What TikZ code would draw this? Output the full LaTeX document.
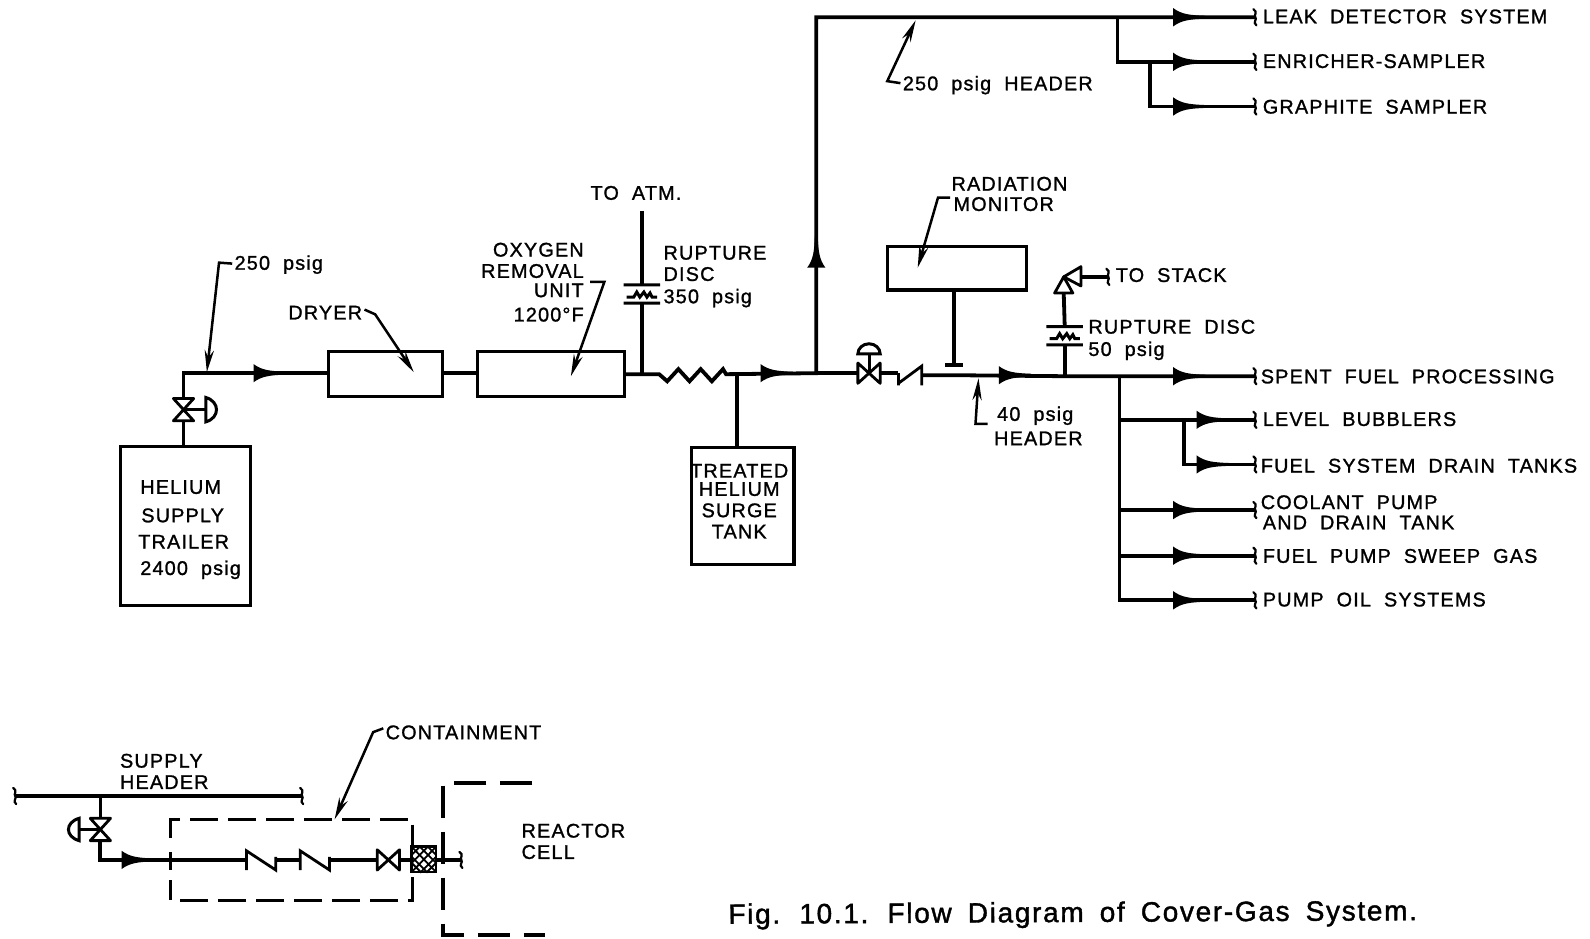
\documentclass[tikz,border=0pt]{standalone}
\usepackage{fontspec}
\setmainfont{Liberation Sans}[LetterSpace=6,WordSpace=1.95,FakeBold=1.2]
\newfontfamily\capfont{Liberation Sans}[LetterSpace=6,WordSpace=1.7,FakeBold=1.4]
\usetikzlibrary{arrows.meta,calc}
\newdimen\uu \uu=0.50702pt
\tikzset{
 x=\uu,y=-\uu,
 pipe/.style={line width=1.9pt,line join=miter},
 thin pipe/.style={line width=1.5pt},
 unit box/.style={draw,line width=1.6pt,inner sep=0pt,outer sep=0pt,anchor=north west},
 lab/.style={inner sep=0pt,anchor=base west,font=\fontsize{9.9}{12}\selectfont},
 labr/.style={lab,anchor=base east},
 leader/.style={line width=1.25pt,-{Stealth[length=11pt,width=4.6pt]}},
 cdash/.style={line width=1.6pt,dash pattern=on 14pt off 5pt},
 flowtip/.pic={\fill (0,-9) -- (0,9) .. controls (8,3) and (16,2) .. (32,1.4) -- (32,-1.4) .. controls (16,-2) and (8,-3) .. (0,-9) -- cycle;},
 wig/.pic={\draw[line width=1.1pt,line cap=round] (-2,-8) .. controls (3,-5) and (-2,-2) .. (0,0) .. controls (2,2) and (-3,5) .. (1,8);},
 bowtie/.pic={\draw[line width=1.4pt,fill=white,line join=round] (-10,-11) -- (10,-11) -- (-10,11) -- (10,11) -- cycle;},
 checkv/.pic={\draw[line width=1.4pt,line join=miter] (0,12) -- (0,0) (0,10) -- (23,-7) -- (23,12);},
 checkn/.pic={\draw[line width=1.4pt,line join=miter] (0,10) -- (0,-9) -- (29,10) -- (29,-3);},
 rdisc/.pic={\draw[line width=1.5pt] (-18,-9) -- (18,-9) (-18,9) -- (18,9) (-15,3) -- (-8,3) -- (-5,-2) -- (-2,3) -- (2,-2) -- (5,3) -- (8,-1) -- (10,3) -- (15,3);},
}
\newcommand\lbl[5][]{\node[lab,#1] (#2) at (#3,#4+7) {#5};}
\begin{document}
\begin{tikzpicture}
\useasboundingbox[fill=white] (0,0) rectangle (1568,926);
% equipment
\node[unit box,minimum width=128*\uu,minimum height=157*\uu] (trailer) at (119,440) {};
\node[unit box,minimum width=112*\uu,minimum height=44*\uu] (dryer) at (324,347) {};
\node[unit box,minimum width=145*\uu,minimum height=44*\uu] (oru) at (471,347) {};
\node[unit box,minimum width=101*\uu,minimum height=116*\uu] (surge) at (682,441) {};
\node[unit box,minimum width=137*\uu,minimum height=43*\uu] (monitor) at (875,243) {};
% junctions
\coordinate (v1) at (181,404);
\coordinate (c1) at (181,368);
\coordinate (j1) at (633,369);
\coordinate (z0) at (650,369);
\coordinate (z1) at (716,369);
\coordinate (j2) at (727,369);
\coordinate (j3) at (805,368);
\coordinate (c2) at (805,17);
\coordinate (v2) at (857,368);
\coordinate (cv) at (886,368);
\coordinate (j4) at (941,370);
\coordinate (j5) at (1050,371);
\coordinate (j6) at (1104,371);
\coordinate (j7) at (1102,17);
\coordinate (j8) at (1102,61);
\coordinate (j9) at (1134,61);
\coordinate (j10) at (1134,105);
\coordinate (j11) at (1168,414);
\coordinate (j12) at (1168,458);
\coordinate (j13) at (1104,414);
\coordinate (j14) at (1104,503);
\coordinate (j15) at (1104,548);
\coordinate (j16) at (1104,592);
\coordinate (e1) at (1238,17);
\coordinate (e2) at (1238,61);
\coordinate (e3) at (1238,105);
\coordinate (e4) at (1238,371);
\coordinate (e5) at (1238,414);
\coordinate (e6) at (1238,458);
\coordinate (e7) at (1238,503);
\coordinate (e8) at (1238,548);
\coordinate (e9) at (1238,592);
\coordinate (atm) at (633,208);
\coordinate (disc1) at (633,290);
\coordinate (disc2) at (1050,331);
\coordinate (rv) at (1049,273);
\coordinate (stack) at (1093,273);
% main pipe
\draw[pipe] (trailer.north -| v1) -- (v1) -- (c1) -- (dryer.west |- c1);
\draw[pipe] (dryer.east |- c1) -- (oru.west |- c1);
\draw[pipe] (oru.east |- j1) -- (z0) -- ++(8,7) -- ++(11,-12) -- ++(11,12) -- ++(11,-12) -- ++(11,12) -- ++(11,-12) -- ++(3,5) -- (z1) -- (j3) -- (c2) -- (e1);
\draw[pipe] (j2) -- (surge.north -| j2);
\draw[pipe] (j3) -- (v2) -- (cv);
\draw[pipe] (910,370) -- (j4) -- (j5) -- (e4);
\draw[pipe] (j7) -- (j8) -- (e2);
\draw[pipe] (j9) -- (j10) -- (e3);
\draw[pipe] (j6) -- (j16) -- (e9);
\draw[pipe] (j13) -- (e5);
\draw[pipe] (j11) -- (j12) -- (e6);
\draw[pipe] (j14) -- (e7);
\draw[pipe] (j15) -- (e8);
% vents
\draw[pipe] (atm) -- ($(disc1)+(0,-9)$);
\draw[pipe] ($(disc1)+(0,9)$) -- (j1);
\draw[pipe] (j5) -- ($(disc2)+(0,9)$);
\draw[pipe] ($(disc2)+(0,-9)$) -- ($(rv)+(0,16)$);
\draw[pipe] ($(rv)+(17,0)$) -- (stack);
\draw[pipe] (monitor.south -| 941,0) -- (941,360);
\draw[line width=1.7pt] (932,360) -- (950,360);
% valves
\pic at (v1) {bowtie};
\draw[thin pipe] (v1) -- ++(22,0);
\draw[thin pipe] (203,392) -- (203,416) .. controls (217,412) and (217,396) .. (203,392) -- cycle;
\pic[rotate=90] at (v2) {bowtie};
\draw[thin pipe] (v2) -- ++(0,-19);
\draw[thin pipe] (846,349) arc[start angle=180,end angle=0,x radius=11,y radius=-10] -- cycle;
\pic at (cv) {checkv};
\pic at (disc1) {rdisc};
\pic at (disc2) {rdisc};
\draw[line width=1.4pt,fill=white,line join=round] (rv) -- (1040,289) -- (1058,289) -- cycle;
\draw[line width=1.4pt,fill=white,line join=round] (rv) -- (1066,263) -- (1066,282) -- cycle;
\pic at (stack) {wig};
% flow arrows
\foreach \p/\q in {250/368,750/368,985/370,1157/17,1157/61,1157/105,1157/371,1180/414,1180/458,1157/503,1157/548,1157/592,120/848}
  \pic at (\p,\q) {flowtip};
\pic[rotate=90] at (805,264) {flowtip};
\foreach \n in {e1,e2,e3,e4,e5,e6,e7,e8,e9}
  \pic at (\n) {wig};
% labels
\lbl{la}{231}{259}{250 psig}
\lbl{lb}{284}{308}{DRYER}
\lbl[labr]{lc}{576}{246}{OXYGEN}
\lbl[labr]{ld}{576}{267}{REMOVAL}
\lbl[labr]{le}{576}{286}{UNIT}
\lbl[labr]{lf}{576}{310}{1200°F}
\lbl{lg}{582}{190}{TO ATM.}
\lbl{lh}{654}{249}{RUPTURE}
\lbl{li}{654}{270}{DISC}
\lbl{lj}{654}{292}{350 psig}
\lbl{lk}{138}{480}{HELIUM}
\lbl{ll}{139}{508}{SUPPLY}
\lbl{lm}{136}{534}{TRAILER}
\lbl{ln}{138}{560}{2400 psig}
\lbl[anchor=base]{lo}{729}{464}{TREATED}
\lbl[anchor=base]{lp}{729}{482}{HELIUM}
\lbl[anchor=base]{lq}{729}{503}{SURGE}
\lbl[anchor=base]{lr}{729}{524}{TANK}
\lbl{ls}{938}{181}{RADIATION}
\lbl{lt}{940}{201}{MONITOR}
\lbl{lu}{1100}{271}{TO STACK}
\lbl{lv}{1073}{322}{RUPTURE DISC}
\lbl{lw}{1073}{344}{50 psig}
\lbl{lx}{983}{408}{40 psig}
\lbl{ly}{980}{432}{HEADER}
\lbl{lz}{890}{82}{250 psig HEADER}
\lbl{ma}{1245}{16}{LEAK DETECTOR SYSTEM}
\lbl{mb}{1245}{60}{ENRICHER-SAMPLER}
\lbl{mc}{1245}{105}{GRAPHITE SAMPLER}
\lbl{md}{1243}{371}{SPENT FUEL PROCESSING}
\lbl{me}{1245}{413}{LEVEL BUBBLERS}
\lbl{mf}{1243}{459}{FUEL SYSTEM DRAIN TANKS}
\lbl{mg}{1243}{495}{COOLANT PUMP}
\lbl{mh}{1245}{515}{AND DRAIN TANK}
\lbl{mi}{1245}{548}{FUEL PUMP SWEEP GAS}
\lbl{mj}{1245}{591}{PUMP OIL SYSTEMS}
\lbl{mk}{118}{750}{SUPPLY}
\lbl{ml}{118}{771}{HEADER}
\lbl{mm}{380}{722}{CONTAINMENT}
\lbl{mn}{514}{819}{REACTOR}
\lbl{mo}{514}{840}{CELL}
% leaders
\draw[leader] (la.west) ++(-2,-1) -- (216,259) -- (204,367);
\draw[leader] (lb.east) ++(2,-3) -- (370,310) -- (408,367);
\draw[leader] (582,278) -- (596,278) -- (563,371);
\draw[leader] (937,195) -- (925,195) -- (905,264);
\draw[leader] (974,418) -- (962,418) -- (965,373);
\draw[leader] (888,82) -- (875,80) -- (903,20);
\draw[leader] (mm.west) ++(-2,-4) -- (368,722) -- (330,808);
% lower detail
\coordinate (h0) at (15,785);
\coordinate (h1) at (298,785);
\coordinate (h2) at (99,785);
\coordinate (v3) at (99,818);
\coordinate (c3) at (99,848);
\coordinate (k1) at (243,848);
\coordinate (k1b) at (272,848);
\coordinate (k2) at (296,848);
\coordinate (k2b) at (325,848);
\coordinate (v4) at (383,848);
\coordinate (pk) at (418,848);
\coordinate (e10) at (455,848);
\draw[pipe] (h0) -- (h1);
\pic at (h0) {wig};
\pic at (h1) {wig};
\draw[thin pipe] (h2) -- (v3);
\draw[pipe] (v3) -- (c3) -- (k1);
\draw[pipe] (k1b) -- (k2);
\draw[pipe] (k2b) -- (v4) -- (e10);
\pic at (e10) {wig};
\pic at (v3) {bowtie};
\draw[thin pipe] (v3) -- ++(-21,0);
\draw[thin pipe] (78,807) -- (78,829) .. controls (64,825) and (64,811) .. (78,807) -- cycle;
\pic at (k1) {checkn};
\pic at (k2) {checkn};
\pic[rotate=90] at (v4) {bowtie};
\draw[line width=1.3pt,fill=white] (406,835) rectangle (430,860);
\draw[line width=.9pt] (406,843) -- (414,835) -- (430,851) -- (421,860) -- (406,845) (430,843) -- (422,835) -- (406,851) -- (415,860) -- (430,845) (406,835) -- (430,860) (430,835) -- (406,860);
\draw[line width=1.4pt] (168,840) -- (168,858);
% containment
\draw[cdash] (168,826) -- (168,808) -- (407,808) -- (407,836);
\draw[cdash] (407,865) -- (407,888) -- (168,888) -- (168,868);
\draw[cdash,line width=1.9pt,dash pattern=on 16pt off 7pt] (525,772) -- (437,772) -- (437,922) -- (537,922);
% caption
\node[inner sep=0pt,anchor=base west,font=\capfont\fontsize{14}{16}\selectfont,rotate=0.3] (cap) at (718,911) {Fig. 10.1. Flow Diagram of Cover-Gas System.};
\end{tikzpicture}
\end{document}
